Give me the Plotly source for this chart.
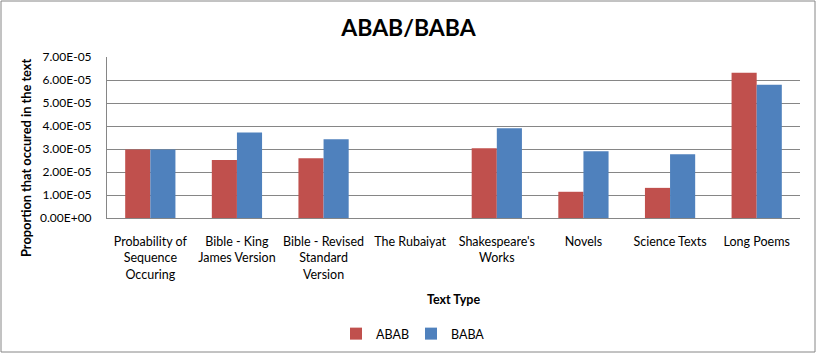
import plotly.graph_objects as go

categories = ["Probability of<br>Sequence<br>Occuring", "Bible - King<br>James Version",
              "Bible - Revised<br>Standard<br>Version", "The Rubaiyat", "Shakespeare's<br>Works",
              "Novels", "Science Texts", "Long Poems"]
abab = [2.98e-5, 2.52e-5, 2.60e-5, 0.0, 3.03e-5, 1.14e-5, 1.31e-5, 6.31e-5]
baba = [2.98e-5, 3.72e-5, 3.42e-5, 0.0, 3.90e-5, 2.90e-5, 2.77e-5, 5.79e-5]
yticks = [0, 1e-5, 2e-5, 3e-5, 4e-5, 5e-5, 6e-5, 7e-5]
yticktext = [f"{v:.2E}" for v in yticks]

FONT = "Lato, 'Open Sans', sans-serif"

fig = go.Figure()
fig.add_trace(go.Bar(name="ABAB", x=categories, y=abab, marker_color="#C0504D", marker_line_width=0))
fig.add_trace(go.Bar(name="BABA", x=categories, y=baba, marker_color="#4F81BD", marker_line_width=0))

L, R, T, B, W, H = 107, 17, 57, 139, 817, 357
pw, ph = W - L - R, H - T - B

fig.update_layout(
    width=W, height=H,
    margin=dict(l=L, r=R, t=T, b=B, pad=0, autoexpand=False),
    paper_bgcolor="white", plot_bgcolor="white",
    font=dict(family=FONT, size=12, color="#000000"),
    barmode="group", bargap=0.42, bargroupgap=0,
    title=dict(text="<b>ABAB/BABA</b>", x=0.5, xanchor="center", y=1 - 28 / H, yanchor="middle",
               font=dict(family=FONT, size=23, color="#000000")),
    xaxis=dict(showgrid=False, showline=True, linecolor="#868686", linewidth=1,
               ticks="", tickfont=dict(size=12.5), tickangle=0, ticklabelstandoff=12,
               title=dict(text="<b>Text Type</b>", font=dict(size=12.5), standoff=14)),
    yaxis=dict(range=[0, 7e-5], tickvals=yticks, ticktext=yticktext,
               showgrid=True, gridcolor="#868686", gridwidth=1,
               showline=True, linecolor="#868686", ticks="", ticklabelstandoff=12,
               tickfont=dict(size=12), zeroline=False),
    legend=dict(orientation="h", x=(411 - L) / pw, xanchor="center", y=-(334 - (T + ph)) / ph,
                yanchor="middle", font=dict(size=12.5), itemwidth=30, tracegroupgap=0,
                entrywidth=30, entrywidthmode="pixels"),
    showlegend=True,
)

fig.add_annotation(text="<b>Proportion that occured in the text</b>", textangle=-90,
                   xref="paper", yref="paper", x=(26 - L) / pw, y=((H - B) - 158) / ph,
                   xanchor="center", yanchor="middle", showarrow=False, font=dict(size=12.8))

fig.add_shape(type="rect", xref="paper", yref="paper",
              x0=(1 - L) / pw, x1=(W - 2 - L) / pw, y0=-(352 - (T + ph)) / ph, y1=1 + (T - 1) / ph,
              line=dict(color="#868686", width=1), fillcolor="rgba(0,0,0,0)", layer="below")

fig.write_html("out.html", config={"displayModeBar": False},
               post_script="document.body.style.margin='0';")
